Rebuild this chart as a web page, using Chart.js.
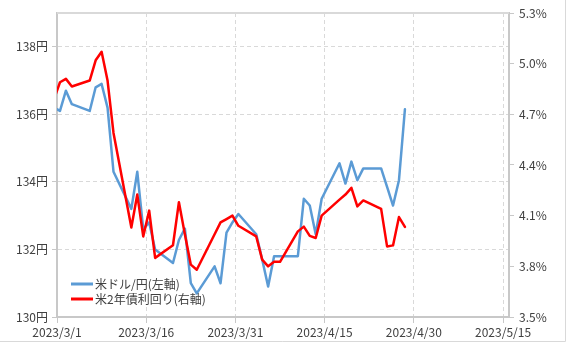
<!DOCTYPE html>
<html>
<head>
<meta charset="utf-8">
<script src="https://cdn.jsdelivr.net/npm/chart.js@4.4.0/dist/chart.umd.min.js"></script>
<style>
  body { margin: 0; background: #fff; }
  canvas { display: block; }
</style>
</head>
<body>
<canvas id="fxChart" width="568" height="344"></canvas>
<script>
const dates = [
  "2023/2/28", "2023/3/1", "2023/3/2", "2023/3/3", "2023/3/6", "2023/3/7", "2023/3/8", "2023/3/9", "2023/3/10",
  "2023/3/13", "2023/3/14", "2023/3/15", "2023/3/16", "2023/3/17", "2023/3/20", "2023/3/21", "2023/3/22",
  "2023/3/23", "2023/3/24", "2023/3/27", "2023/3/28", "2023/3/29", "2023/3/30", "2023/3/31", "2023/4/3",
  "2023/4/4", "2023/4/5", "2023/4/6", "2023/4/7", "2023/4/10", "2023/4/11", "2023/4/12", "2023/4/13",
  "2023/4/14", "2023/4/17", "2023/4/18", "2023/4/19", "2023/4/20", "2023/4/21", "2023/4/24", "2023/4/25",
  "2023/4/26", "2023/4/27", "2023/4/28"
];
const usdJpy = [
  136.2, 136.1, 136.7, 136.3, 136.1, 136.8, 136.9, 136.2, 134.3,
  133.2, 134.3, 132.6, 132.8, 132.0, 131.6, 132.28, 132.62,
  131.0, 130.7, 131.5, 131.0, 132.5, 132.8, 133.05, 132.45,
  131.7, 130.9, 131.8, 131.8, 131.8, 133.5, 133.3, 132.45,
  133.5, 134.55, 133.95, 134.6, 134.05, 134.4, 134.4, 133.85,
  133.3, 134.05, 136.15
];
const us2y = [
  4.79, 4.89, 4.91, 4.865, 4.90, 5.02, 5.07, 4.90, 4.59,
  4.03, 4.225, 3.977, 4.13, 3.85, 3.925, 4.18, 3.99,
  3.81, 3.78, 3.99, 4.06, 4.08, 4.10, 4.04, 3.977,
  3.84, 3.80, 3.827, 3.827, 4.007, 4.035, 3.98, 3.968,
  4.10, 4.195, 4.225, 4.265, 4.155, 4.19, 4.14, 3.918,
  3.924, 4.092, 4.033
];
const seriesNames = ["米ドル/円(左軸)", "米2年債利回り(右軸)"];
const xTickLabels = ["2023/3/1", "2023/3/16", "2023/3/31", "2023/4/15", "2023/4/30", "2023/5/15"];
const leftTicks = [130, 132, 134, 136, 138];
const rightTicks = [3.5, 3.8, 4.1, 4.4, 4.7, 5.0, 5.3];

// days since 3/1; excel puts each point in the middle of its day
function dayOf(s) {
  const [y, m, d] = s.split("/").map(Number);
  return (Date.UTC(y, m - 1, d) - Date.UTC(2023, 2, 1)) / 86400000;
}
const pts = (vals) => dates.map((d, i) => ({ x: dayOf(d) + 0.5, y: vals[i] }));

const gridColor = "#d9d9d9";
const axisColor = "#c8c8c8";
const textColor = "#404040";
Chart.defaults.font.family = "'Noto Sans CJK JP', 'Noto Sans', sans-serif";
Chart.defaults.font.size = 12;
Chart.defaults.color = textColor;

const legendBox = { x: 66, y: 274, w: 138, h: 31 };

const frame = {
  id: "frame",
  beforeDatasetsDraw(chart) {
    const c = chart.ctx;
    c.save();
    c.fillStyle = "#fff";
    c.fillRect(legendBox.x, legendBox.y, legendBox.w, legendBox.h);
    c.restore();
  },
  afterDraw(chart) {
    const c = chart.ctx;
    const a = chart.chartArea;
    c.save();
    // legend
    c.font = "12px 'Noto Sans CJK JP', sans-serif";
    c.textBaseline = "middle";
    chart.data.datasets.forEach((ds, i) => {
      const y = 284 + i * 15;
      c.strokeStyle = ds.borderColor;
      c.lineWidth = 3;
      c.beginPath();
      c.moveTo(71, y);
      c.lineTo(93, y);
      c.stroke();
      c.fillStyle = textColor;
      c.fillText(ds.label, 95, y);
    });
    // top border of plot area
    c.strokeStyle = gridColor;
    c.lineWidth = 2;
    c.beginPath();
    c.moveTo(a.left, a.top);
    c.lineTo(a.right, a.top);
    c.stroke();
    // outer chart border
    c.lineWidth = 1;
    c.strokeStyle = "#d9d9d9";
    c.beginPath();
    c.moveTo(565.5, 0);
    c.lineTo(565.5, 341.5);
    c.lineTo(0, 341.5);
    c.stroke();
    c.restore();
  }
};

new Chart(document.getElementById("fxChart"), {
  type: "line",
  data: {
    datasets: [
      {
        label: seriesNames[0],
        data: pts(usdJpy),
        borderColor: "#5b9bd5",
        borderWidth: 2.5,
        yAxisID: "y",
        order: 1,
      },
      {
        label: seriesNames[1],
        data: pts(us2y),
        borderColor: "#ff0000",
        borderWidth: 2.5,
        yAxisID: "y1",
        order: 0,
      },
    ],
  },
  options: {
    responsive: false,
    animation: false,
    layout: { padding: { top: 13, left: 0, right: 0, bottom: 0 } },
    elements: {
      point: { radius: 0 },
      line: { tension: 0, borderJoinStyle: "round", borderCapStyle: "round" },
    },
    plugins: { legend: { display: false }, tooltip: { enabled: false } },
    scales: {
      x: {
        type: "linear",
        min: 0,
        max: 76,
        afterBuildTicks: (s) => { s.ticks = xTickLabels.map((l) => ({ value: dayOf(l) })); },
        afterFit: (s) => { s.height = 27; },
        ticks: {
          autoSkip: false,
          maxRotation: 0,
          padding: 2,
          callback: (v) => xTickLabels.find((l) => dayOf(l) === v),
        },
        grid: {
          color: gridColor,
          tickColor: axisColor,
          tickLength: 6,
          tickBorderDash: [],
        },
        border: { color: axisColor, width: 2, dash: [4, 3] },
      },
      y: {
        position: "left",
        min: 130,
        max: 139,
        afterBuildTicks: (s) => { s.ticks = leftTicks.map((v) => ({ value: v })); },
        afterFit: (s) => { s.width = 57; },
        ticks: { padding: 4, callback: (v) => v + "円" },
        grid: {
          color: gridColor,
          tickColor: axisColor,
          tickLength: 5,
          tickBorderDash: [],
        },
        border: { color: axisColor, width: 2, dash: [4, 3] },
      },
      y1: {
        position: "right",
        min: 3.5,
        max: 5.3,
        afterBuildTicks: (s) => { s.ticks = rightTicks.map((v) => ({ value: v })); },
        afterFit: (s) => { s.width = 59; },
        ticks: { padding: 5, callback: (v) => v.toFixed(1) + "%" },
        grid: {
          drawOnChartArea: false,
          tickColor: axisColor,
          tickLength: 5,
        },
        border: { color: axisColor, width: 2 },
      },
    },
  },
  plugins: [frame],
});
</script>
</body>
</html>
